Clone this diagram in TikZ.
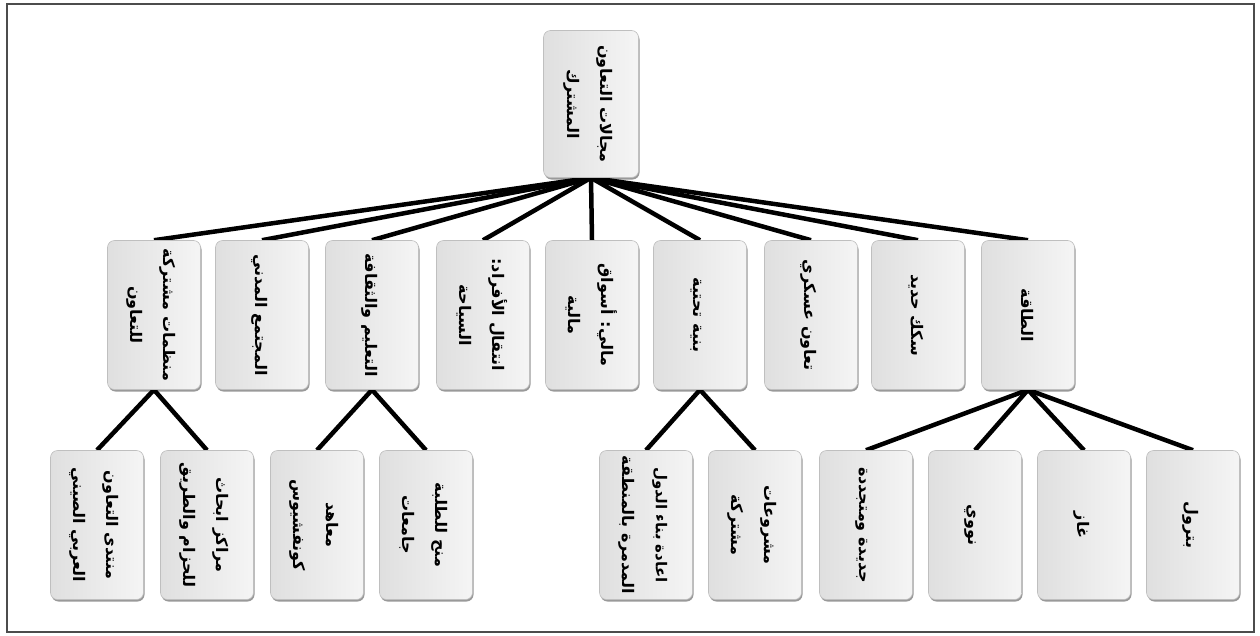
\documentclass[tikz,border=0pt]{standalone}
\usepackage{fontspec}
\usepackage{graphicx}
\TeXXeTstate=1
\newfontfamily\arabicfont[Script=Arabic]{DejaVu Sans}
\usetikzlibrary{shadows}
\pgfdeclarelayer{bg}
\pgfsetlayers{bg,main}
\newcommand\arl[1]{\beginR #1\endR}
\newcommand\vlab[1]{\rotatebox{-90}{\begin{tabular}{@{}c@{}}#1\end{tabular}}}
\begin{document}
\begin{tikzpicture}[x=1pt,y=-1pt,
  box/.style={rectangle, rounded corners=7pt, minimum width=93pt, minimum height=149pt,
    inner sep=0pt, draw=gray!50, line width=0.6pt,
    left color=gray!25, middle color=white, right color=gray!8,
    drop shadow={shadow xshift=1pt, shadow yshift=-2pt, opacity=0.4, fill=black},
    font=\arabicfont\bfseries\fontsize{16}{33}\selectfont},
  link/.style={line width=4.5pt, black}]
\useasboundingbox (0,0) rectangle (1260,635);
\draw[gray!60!black, line width=1.5pt] (7,4) rectangle (1254,632);

% root
\node[box, minimum width=95pt, minimum height=147pt] (root) at (591,104) {\vlab{\arl{مجالات التعاون}\\\arl{المشترك}}};

% level 2
\node[box] (a1) at (154,315) {\vlab{\arl{منظمات مشتركة}\\\arl{للتعاون}}};
\node[box] (a2) at (262,315) {\vlab{\arl{المجتمع المدني}}};
\node[box] (a3) at (372,315) {\vlab{\arl{التعليم والثقافة}}};
\node[box] (a4) at (483,315) {\vlab{\arl{انتقال الأفراد:}\\\arl{السياحة}}};
\node[box] (a5) at (592,315) {\vlab{\arl{مالي: أسواق}\\\arl{مالية}}};
\node[box] (a6) at (700,315) {\vlab{\arl{بنية تحتية}}};
\node[box] (a7) at (811,315) {\vlab{\arl{تعاون عسكري}}};
\node[box] (a8) at (918,315) {\vlab{\arl{سكك حديد}}};
\node[box] (a9) at (1028,315) {\vlab{\arl{الطاقة}}};

% level 3
\node[box] (b1) at (97,525) {\vlab{\arl{منتدى التعاون}\\\arl{العربي الصيني}}};
\node[box] (b2) at (207,525) {\vlab{\arl{مراكز ابحاث}\\\arl{للحزام والطريق}}};
\node[box] (b3) at (317,525) {\vlab{\arl{معاهد}\\\arl{كونفشيوس}}};
\node[box] (b4) at (426,525) {\vlab{\arl{منح للطلبة}\\\arl{جامعات}}};
\node[box] (b5) at (646,525) {\vlab{\fontsize{15}{30}\selectfont\arl{اعادة بناء الدول}\\\arl{المدمرة بالمنطقة}}};
\node[box] (b6) at (755,525) {\vlab{\arl{مشروعات}\\\arl{مشتركة}}};
\node[box] (b7) at (866,525) {\vlab{\arl{جديدة ومتجددة}}};
\node[box] (b8) at (975,525) {\vlab{\arl{نووي}}};
\node[box] (b9) at (1084,525) {\vlab{\arl{غاز}}};
\node[box] (b10) at (1193,525) {\vlab{\arl{بترول}}};

\begin{pgfonlayer}{bg}
\foreach \n in {a1,a2,a3,a4,a5,a6,a7,a8,a9}
  \draw[link] (root.south) -- (\n.north);
\draw[link] (a1.south) -- (b1.north);
\draw[link] (a1.south) -- (b2.north);
\draw[link] (a3.south) -- (b3.north);
\draw[link] (a3.south) -- (b4.north);
\draw[link] (a6.south) -- (b5.north);
\draw[link] (a6.south) -- (b6.north);
\foreach \n in {b7,b8,b9,b10}
  \draw[link] (a9.south) -- (\n.north);
\end{pgfonlayer}
\end{tikzpicture}
\end{document}
